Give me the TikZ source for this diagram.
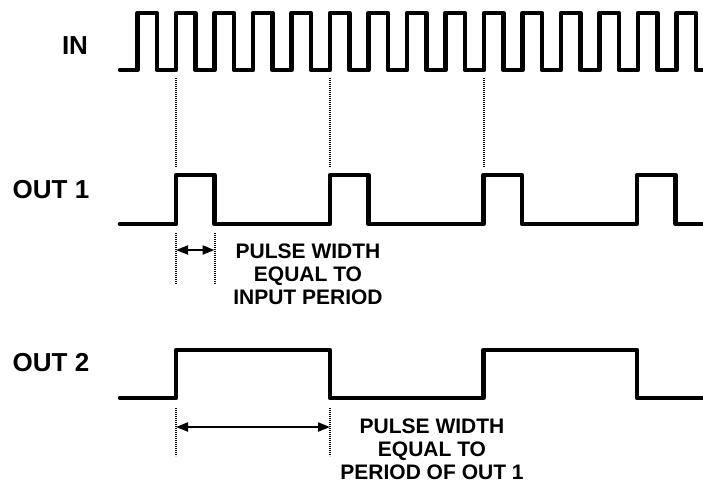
\documentclass[tikz,border=0pt]{standalone}
\usepackage{fontspec}
\setmainfont{Liberation Sans}
\usepackage{tikz}
\usetikzlibrary{arrows.meta}

\begin{document}
\begin{tikzpicture}[x=1pt, y=-1pt,
  wave/.style={line width=4.5pt, line join=round, line cap=round},
  guide/.style={line width=2pt, dash pattern=on 1.2pt off 0.8pt},
  dim/.style={line width=2pt, {Triangle[length=12pt,width=9pt]}-{Triangle[length=12pt,width=9pt]}},
  siglabel/.style={font=\fontsize{26}{28}\selectfont\bfseries},
  note/.style={font=\fontsize{21}{23}\selectfont\bfseries, align=center}]
\useasboundingbox (0,0) rectangle (703,483);
% Signal names
\node[siglabel] (lblin) at (75,46) {IN};
\node[siglabel] (lblout1) at (51,190) {OUT 1};
\node[siglabel] (lblout2) at (51,363) {OUT 2};
% IN waveform
\draw[wave] (120,70) -- (137.5,70)
  foreach \k in {1,...,14} { -- ++(0,-57) -- ++(19.25,0) -- ++(0,57) -- ++(19.25,0) }
  -- ++(0,-57) -- ++(19.25,0) -- ++(0,57) -- (703,70);
% OUT 1 waveform
\draw[wave] (120,224)
  foreach \x in {176,330,483.5,637} { -- (\x,224) -- (\x,175) -- (\x+38.5,175) -- (\x+38.5,224) }
  -- (703,224);
% OUT 2 waveform
\draw[wave] (120,398) -- (176,398) -- (176,350) -- (330,350) -- (330,398)
  -- (483.5,398) -- (483.5,350) -- (637,350) -- (637,398) -- (703,398);
% Guides from IN to OUT 1
\foreach \x [count=\i] in {176,330,483.5} {
  \coordinate (gtop\i) at (\x,78);
  \coordinate (gbot\i) at (\x,167);
  \draw[guide] (gtop\i) -- (gbot\i);
}
% Pulse width of OUT 1
\foreach \n/\x in {a/176, b/214.5} {
  \coordinate (ptop\n) at (\x,233);
  \coordinate (pbot\n) at (\x,284);
  \draw[guide] (ptop\n) -- (pbot\n);
  \coordinate (parr\n) at (\x,250);
}
\draw[dim] (parra) -- (parrb);
\node[note] (note1) at (308,274) {PULSE WIDTH\\EQUAL TO\\INPUT PERIOD};
% Pulse width of OUT 2
\foreach \n/\x in {a/176, b/330} {
  \coordinate (qtop\n) at (\x,408);
  \coordinate (qbot\n) at (\x,456);
  \draw[guide] (qtop\n) -- (qbot\n);
  \coordinate (qarr\n) at (\x,427);
}
\draw[dim] (qarra) -- (qarrb);
\node[note] (note2) at (432,449) {PULSE WIDTH\\EQUAL TO\\PERIOD OF OUT 1};
\end{tikzpicture}
\end{document}
